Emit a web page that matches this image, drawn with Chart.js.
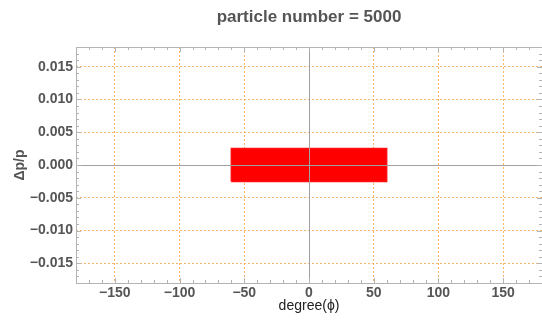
<!DOCTYPE html>
<html lang="en">
<head>
<meta charset="UTF-8" />
<title>particle number = 5000</title>
<script src="https://cdn.jsdelivr.net/npm/chart.js"></script>
<style>
  html, body { margin: 0; padding: 0; background: #fff; }
  canvas { display: block; }
</style>
</head>
<body>
<canvas id="phaseChart" width="542" height="320"></canvas>
<script>
const titleText = "particle number = 5000";
// bunch edges: phase (deg) and momentum spread
const phiEdges = [-60, 60];
const dppEdges = [-0.0025, 0.0025];
const xLimits = [-180, 180];
const yLimits = [-0.018, 0.018];
const xTicks = [-150, -100, -50, 0, 50, 100, 150];
const xTickLabels = ["−150", "−100", "−50", "0", "50", "100", "150"];
const yTicks = [-0.015, -0.01, -0.005, 0, 0.005, 0.01, 0.015];
const yTickLabels = ["−0.015", "−0.010", "−0.005", "0.000", "0.005", "0.010", "0.015"];

const FONT = '"Liberation Sans", Arial, sans-serif';
const GRID = "rgba(248,168,85,0.85)";
const FRAME = "#a0a0a0";

const bunch = [
  { x: phiEdges[0], y: dppEdges[0] },
  { x: phiEdges[1], y: dppEdges[0] },
  { x: phiEdges[1], y: dppEdges[1] },
  { x: phiEdges[0], y: dppEdges[1] },
  { x: phiEdges[0], y: dppEdges[0] },
];

// frame, minor ticks, zero lines and the title
const framePlugin = {
  id: "frame",
  afterDatasetsDraw(chart) {
    const { ctx, chartArea: a, scales } = chart;
    const xs = scales.x, ys = scales.y;
    ctx.save();
    ctx.strokeStyle = FRAME;
    ctx.lineWidth = 1;
    ctx.beginPath();
    const x0 = Math.round(xs.getPixelForValue(0)) + 0.5;
    const y0 = Math.round(ys.getPixelForValue(0)) + 0.5;
    ctx.moveTo(x0, a.top); ctx.lineTo(x0, a.bottom);
    ctx.moveTo(a.left, y0); ctx.lineTo(a.right, y0);
    ctx.stroke();

    ctx.strokeStyle = "#b4b4b4";
    ctx.strokeRect(Math.round(a.left) + 0.5, Math.round(a.top) + 0.5,
      Math.round(a.right - a.left), Math.round(a.bottom - a.top));

    ctx.beginPath();
    for (let v = -170; v <= 170; v += 10) {
      const len = v % 50 === 0 ? 5 : 3;
      const px = Math.round(xs.getPixelForValue(v)) + 0.5;
      ctx.moveTo(px, a.bottom); ctx.lineTo(px, a.bottom - len);
      ctx.moveTo(px, a.top); ctx.lineTo(px, a.top + len);
    }
    for (let k = -17; k <= 17; k++) {
      const len = k % 5 === 0 ? 5 : 3;
      const py = Math.round(ys.getPixelForValue(k * 0.001)) + 0.5;
      ctx.moveTo(a.left, py); ctx.lineTo(a.left + len, py);
      ctx.moveTo(a.right, py); ctx.lineTo(a.right - len, py);
    }
    ctx.stroke();

    ctx.fillStyle = "#555";
    ctx.font = "bold 17px " + FONT;
    ctx.textAlign = "center";
    ctx.textBaseline = "middle";
    ctx.fillText(titleText, (a.left + a.right) / 2, 17);
    ctx.restore();
  },
};

new Chart(document.getElementById("phaseChart"), {
  type: "scatter",
  data: {
    datasets: [{
      data: bunch,
      showLine: true,
      fill: "shape",
      backgroundColor: "#ff0000",
      borderColor: "#ff1010",
      borderWidth: 1.5,
      pointRadius: 0,
      tension: 0,
    }],
  },
  options: {
    responsive: false,
    animation: false,
    layout: { padding: { top: 47, right: 0, left: 0, bottom: 0 } },
    plugins: { legend: { display: false }, tooltip: { enabled: false }, title: { display: false } },
    scales: {
      x: {
        type: "linear",
        min: xLimits[0],
        max: xLimits[1],
        afterBuildTicks: (s) => { s.ticks = xTicks.map((v) => ({ value: v })); },
        afterFit: (s) => { s.height = 37; },
        grid: {
          drawTicks: false,
          color: (c) => (c.tick && c.tick.value === 0 ? "rgba(0,0,0,0)" : GRID),
        },
        border: { display: false, dash: [2, 2] },
        ticks: {
          padding: 2,
          color: "#555",
          font: { family: FONT, size: 14, weight: "bold" },
          callback: (v) => xTickLabels[xTicks.indexOf(v)],
        },
        title: {
          display: true,
          text: "degree(ϕ)",
          color: "#222",
          font: { family: FONT, size: 14 },
          padding: { top: 0, bottom: 5 },
        },
      },
      y: {
        type: "linear",
        min: yLimits[0],
        max: yLimits[1],
        afterBuildTicks: (s) => { s.ticks = yTicks.map((v) => ({ value: v })); },
        afterFit: (s) => { s.width = 76; },
        grid: {
          drawTicks: false,
          color: (c) => (c.tick && c.tick.value === 0 ? "rgba(0,0,0,0)" : GRID),
        },
        border: { display: false, dash: [2, 2] },
        ticks: {
          padding: 3,
          color: "#555",
          font: { family: FONT, size: 14, weight: "bold" },
          callback: (v) => yTickLabels[yTicks.findIndex((t) => Math.abs(t - v) < 1e-9)],
        },
        title: {
          display: true,
          text: "Δp/p",
          color: "#555",
          font: { family: FONT, size: 14, weight: "bold" },
          padding: { top: 12, bottom: 0 },
        },
      },
    },
  },
  plugins: [framePlugin],
});
</script>
</body>
</html>
